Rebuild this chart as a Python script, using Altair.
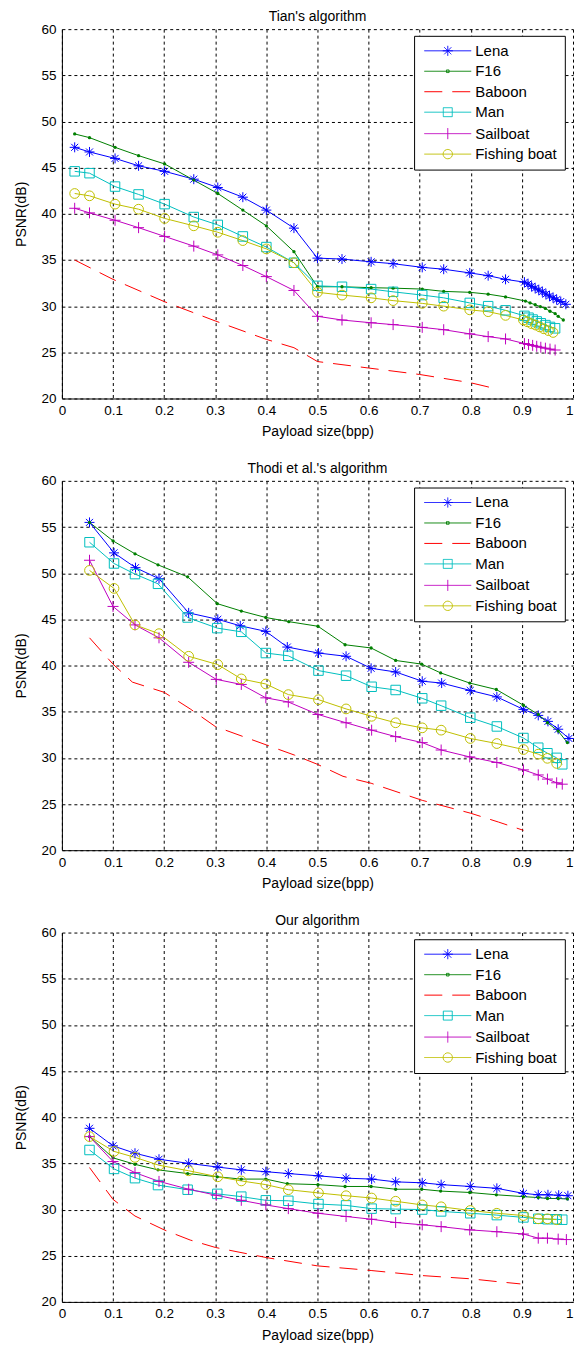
import math
import altair as alt
import pandas as pd

FONT = "Liberation Sans"

SERIES = ["Lena", "F16", "Baboon", "Man", "Sailboat", "Fishing boat"]
COLORS = ["#0000FF", "#008000", "#FF0000", "#00BFBF", "#BF00BF", "#BFBF00"]
DASHES = [[1, 0], [1, 0], [18, 10], [1, 0], [1, 0], [1, 0]]
COLOR_OF = dict(zip(SERIES, COLORS))
SOLID_SERIES = [s for s in SERIES if s != "Baboon"]

X_TICKS = [0, 0.1, 0.2, 0.3, 0.4, 0.5, 0.6, 0.7, 0.8, 0.9, 1.0]
Y_TICKS = [20, 25, 30, 35, 40, 45, 50, 55, 60]

TITLES = ["Tian's algorithm", "Thodi et al.'s algorithm", "Our algorithm"]

# ---------------- Tian's algorithm ----------------
TIAN_X19 = [0.025, 0.054, 0.104, 0.150, 0.201, 0.258, 0.305, 0.354, 0.400, 0.454,
            0.500, 0.548, 0.605, 0.648, 0.705, 0.747, 0.798, 0.834, 0.868]
TIAN_LENA_X = TIAN_X19 + [0.905, 0.912, 0.919, 0.926, 0.933, 0.940, 0.947, 0.954, 0.961, 0.968, 0.976, 0.986]
TIAN_LENA_Y = [47.2, 46.7, 46.0, 45.2, 44.6, 43.75, 42.85, 41.8, 40.4, 38.45, 35.2, 35.1, 34.8, 34.6,
               34.2, 34.0, 33.6, 33.3, 32.9,
               32.6, 32.4, 32.15, 31.95, 31.75, 31.55, 31.3, 31.1, 30.9, 30.7, 30.5, 30.2]
TIAN_F16_X = TIAN_X19 + [0.907, 0.916, 0.926, 0.936, 0.946, 0.955, 0.965, 0.971, 0.981]
TIAN_F16_Y = [48.65, 48.25, 47.2, 46.3, 45.4, 43.65, 42.2, 40.4, 38.7, 35.9, 32.1, 32.1, 32.0, 31.95,
              31.85, 31.6, 31.5, 31.3, 31.0,
              30.55, 30.35, 30.15, 29.95, 29.75, 29.45, 29.2, 28.9, 28.5]
TIAN_BABOON_X = [0.025, 0.1, 0.2, 0.3, 0.4, 0.454, 0.5, 0.6, 0.7, 0.8, 0.838]
TIAN_BABOON_Y = [35.0, 32.9, 30.5, 28.4, 26.4, 25.5, 24.0, 23.3, 22.6, 21.7, 21.2]
TIAN_MAN_X = TIAN_X19 + [0.905, 0.913, 0.921, 0.929, 0.937, 0.946, 0.955, 0.965]
TIAN_MAN_Y = [44.6, 44.4, 42.95, 42.1, 41.05, 39.65, 38.8, 37.55, 36.4, 34.7, 32.2, 32.1, 31.85, 31.55,
              31.2, 30.9, 30.35, 30.0, 29.55,
              28.95, 28.75, 28.55, 28.35, 28.15, 27.95, 27.75, 27.6]
TIAN_SAIL_X = TIAN_X19 + [0.905, 0.913, 0.921, 0.929, 0.937, 0.946, 0.955, 0.965]
TIAN_SAIL_Y = [40.6, 40.1, 39.3, 38.5, 37.55, 36.5, 35.55, 34.4, 33.2, 31.7, 28.9, 28.5, 28.2, 28.0,
               27.7, 27.45, 27.0, 26.7, 26.45,
               25.95, 25.85, 25.75, 25.65, 25.55, 25.45, 25.35, 25.25]
TIAN_FISH_X = TIAN_X19 + [0.903, 0.911, 0.919, 0.927, 0.935, 0.943, 0.952, 0.961]
TIAN_FISH_Y = [42.2, 41.95, 41.05, 40.5, 39.5, 38.7, 38.0, 37.1, 36.2, 34.7, 31.5, 31.2, 30.9, 30.6,
               30.3, 30.0, 29.6, 29.4, 29.0,
               28.5, 28.3, 28.1, 27.95, 27.75, 27.55, 27.35, 27.15]

# ---------------- Thodi et al.'s algorithm ----------------
THODI_LENA_X = [0.054, 0.102, 0.144, 0.190, 0.248, 0.305, 0.349, 0.399, 0.441, 0.502, 0.556,
                0.605, 0.653, 0.705, 0.743, 0.799, 0.851, 0.903, 0.932, 0.951, 0.971, 0.992]
THODI_LENA_Y = [55.5, 52.2, 50.6, 49.4, 45.7, 45.0, 44.3, 43.7, 42.0, 41.35, 41.0,
                39.7, 39.3, 38.3, 38.1, 37.3, 36.6, 35.25, 34.6, 33.95, 33.1, 32.1]
THODI_F16_X = [0.054, 0.100, 0.143, 0.188, 0.246, 0.304, 0.351, 0.399, 0.444, 0.501, 0.554,
               0.605, 0.653, 0.704, 0.741, 0.798, 0.850, 0.903, 0.932, 0.950, 0.971, 0.989]
THODI_F16_Y = [55.5, 53.5, 52.1, 50.9, 49.6, 46.7, 45.9, 45.2, 44.75, 44.25, 42.25,
               41.9, 40.55, 40.15, 39.2, 38.1, 37.4, 35.7, 34.7, 33.8, 32.9, 31.65]
THODI_BABOON_X = [0.054, 0.100, 0.138, 0.200, 0.251, 0.300, 0.400, 0.455, 0.500, 0.550,
                  0.605, 0.705, 0.800, 0.854, 0.903]
THODI_BABOON_Y = [43.0, 40.15, 38.2, 37.1, 35.3, 33.4, 31.4, 30.3, 29.3, 28.0,
                  27.25, 25.4, 24.0, 23.05, 22.15]
THODI_MAN_X = [0.054, 0.102, 0.143, 0.188, 0.246, 0.304, 0.351, 0.399, 0.443, 0.502, 0.556,
               0.606, 0.653, 0.705, 0.742, 0.799, 0.851, 0.903, 0.932, 0.950, 0.968, 0.979]
THODI_MAN_Y = [53.35, 51.05, 49.9, 48.85, 45.2, 44.05, 43.65, 41.35, 41.05, 39.45, 38.9,
               37.7, 37.35, 36.45, 35.65, 34.35, 33.4, 32.15, 31.1, 30.5, 30.0, 29.3]
THODI_SAIL_X = [0.054, 0.100, 0.143, 0.190, 0.248, 0.302, 0.351, 0.399, 0.443, 0.501, 0.556,
                0.606, 0.653, 0.705, 0.742, 0.798, 0.851, 0.903, 0.932, 0.950, 0.968, 0.979]
THODI_SAIL_Y = [51.4, 46.4, 44.4, 43.0, 40.35, 38.5, 37.95, 36.5, 36.05, 34.7, 33.8,
                33.0, 32.3, 31.65, 30.85, 30.1, 29.5, 28.7, 28.15, 27.7, 27.3, 27.15]
THODI_FISH_X = [0.054, 0.102, 0.143, 0.190, 0.248, 0.305, 0.351, 0.399, 0.443, 0.502, 0.556,
                0.606, 0.653, 0.705, 0.742, 0.799, 0.851, 0.903, 0.932, 0.950, 0.968]
THODI_FISH_Y = [50.3, 48.35, 44.4, 43.45, 41.0, 40.1, 38.55, 38.0, 36.85, 36.3, 35.3,
                34.5, 33.8, 33.25, 33.0, 32.1, 31.55, 30.9, 30.4, 29.95, 29.4]

# ---------------- Our algorithm ----------------
OUR_LENA_X = [0.054, 0.100, 0.143, 0.190, 0.248, 0.305, 0.351, 0.399, 0.443, 0.502, 0.556,
              0.606, 0.653, 0.705, 0.742, 0.799, 0.851, 0.903, 0.932, 0.951, 0.972, 0.990]
OUR_LENA_Y = [38.8, 36.9, 36.1, 35.45, 35.0, 34.6, 34.3, 34.1, 33.9, 33.65, 33.4,
              33.3, 33.0, 32.9, 32.7, 32.5, 32.3, 31.75, 31.6, 31.6, 31.55, 31.5]
OUR_F16_X = [0.054, 0.100, 0.143, 0.188, 0.246, 0.304, 0.351, 0.399, 0.441, 0.501, 0.554,
             0.605, 0.653, 0.704, 0.741, 0.798, 0.850, 0.903, 0.932, 0.950, 0.971, 0.989]
OUR_F16_Y = [37.9, 35.6, 34.9, 34.3, 33.9, 33.55, 33.3, 33.3, 32.8, 32.7, 32.5,
             32.5, 32.2, 32.2, 32.0, 31.85, 31.6, 31.4, 31.3, 31.2, 31.2, 31.15]
OUR_BABOON_X = [0.054, 0.100, 0.143, 0.200, 0.251, 0.300, 0.400, 0.500, 0.605, 0.705, 0.800,
                0.851, 0.897]
OUR_BABOON_Y = [34.55, 31.1, 29.3, 27.8, 26.7, 25.9, 24.8, 23.9, 23.4, 22.85, 22.5,
                22.2, 21.95]
OUR_MAN_X = [0.054, 0.102, 0.143, 0.188, 0.246, 0.304, 0.351, 0.399, 0.443, 0.502, 0.556,
             0.606, 0.653, 0.705, 0.742, 0.799, 0.851, 0.903, 0.932, 0.950, 0.968, 0.979]
OUR_MAN_Y = [36.45, 34.4, 33.4, 32.65, 32.15, 31.7, 31.4, 31.0, 30.95, 30.6, 30.45,
             30.1, 30.05, 30.0, 29.8, 29.6, 29.4, 29.15, 29.0, 28.95, 28.95, 28.9]
OUR_SAIL_X = [0.054, 0.100, 0.143, 0.190, 0.248, 0.302, 0.351, 0.399, 0.443, 0.501, 0.556,
              0.606, 0.653, 0.705, 0.742, 0.798, 0.851, 0.903, 0.932, 0.950, 0.971, 0.987]
OUR_SAIL_Y = [37.9, 35.2, 34.0, 33.05, 32.2, 31.55, 31.0, 30.5, 30.1, 29.6, 29.25,
              28.95, 28.6, 28.35, 28.15, 27.8, 27.6, 27.35, 26.9, 26.9, 26.8, 26.75]
OUR_FISH_X = [0.054, 0.102, 0.143, 0.190, 0.248, 0.305, 0.351, 0.399, 0.443, 0.502, 0.556,
              0.606, 0.653, 0.705, 0.742, 0.799, 0.851, 0.903, 0.932, 0.950, 0.968]
OUR_FISH_Y = [37.9, 36.3, 35.65, 34.8, 34.2, 33.55, 33.1, 32.7, 32.15, 31.8, 31.5,
              31.25, 30.9, 30.5, 30.3, 29.9, 29.6, 29.35, 29.0, 29.0, 28.9]

PANELS = [
    {"Lena": (TIAN_LENA_X, TIAN_LENA_Y), "F16": (TIAN_F16_X, TIAN_F16_Y),
     "Baboon": (TIAN_BABOON_X, TIAN_BABOON_Y), "Man": (TIAN_MAN_X, TIAN_MAN_Y),
     "Sailboat": (TIAN_SAIL_X, TIAN_SAIL_Y), "Fishing boat": (TIAN_FISH_X, TIAN_FISH_Y)},
    {"Lena": (THODI_LENA_X, THODI_LENA_Y), "F16": (THODI_F16_X, THODI_F16_Y),
     "Baboon": (THODI_BABOON_X, THODI_BABOON_Y), "Man": (THODI_MAN_X, THODI_MAN_Y),
     "Sailboat": (THODI_SAIL_X, THODI_SAIL_Y), "Fishing boat": (THODI_FISH_X, THODI_FISH_Y)},
    {"Lena": (OUR_LENA_X, OUR_LENA_Y), "F16": (OUR_F16_X, OUR_F16_Y),
     "Baboon": (OUR_BABOON_X, OUR_BABOON_Y), "Man": (OUR_MAN_X, OUR_MAN_Y),
     "Sailboat": (OUR_SAIL_X, OUR_SAIL_Y), "Fishing boat": (OUR_FISH_X, OUR_FISH_Y)},
]

# marker glyphs (unit square paths)
STAR = "M-1,0L1,0M0,-1L0,1M-0.7,-0.7L0.7,0.7M-0.7,0.7L0.7,-0.7"
PLUS = "M-1,0L1,0M0,-1L0,1"
MARKERS = {
    "Lena": dict(shape=STAR, size=100, filled=False),
    "F16": dict(shape="circle", size=11, filled=True),
    "Man": dict(shape="square", size=90, filled=False),
    "Sailboat": dict(shape=PLUS, size=121, filled=False),
    "Fishing boat": dict(shape="circle", size=95, filled=False),
}


# legend glyphs: line segment with the marker in its middle.
# symbolSize 169 -> 1 path unit = 6.5 px; the line spans +-3.615 units (47 px).
def _poly_circle(r, n=20):
    pts = [(r * math.cos(2 * math.pi * k / n), r * math.sin(2 * math.pi * k / n)) for k in range(n)]
    return "M" + "L".join(f"{px:.3f},{py:.3f}" for px, py in pts) + "Z"


LINE = "M-3.615,0L3.615,0"
LEGEND_SHAPES = [
    LINE + "M-0.77,0L0.77,0M0,-0.77L0,0.77M-0.54,-0.54L0.54,0.54M-0.54,0.54L0.54,-0.54",
    LINE + "M-0.2,-0.2L0.2,-0.2L0.2,0.2L-0.2,0.2Z",
    LINE,
    LINE + "M-0.69,-0.69L0.69,-0.69L0.69,0.69L-0.69,0.69Z",
    LINE + "M0,-0.85L0,0.85",
    LINE + _poly_circle(0.72),
]

LEGEND = alt.Legend(
    title=None, orient="none", legendX=352.8, legendY=6.7,
    padding=7.5, symbolOffset=18.75, labelOffset=20, rowPadding=4.5,
    symbolSize=169, symbolStrokeWidth=1, strokeColor="black", fillColor="white",
    cornerRadius=0, labelFont=FONT, labelFontSize=15, labelColor="black",
    labelExpr="datum.label + ' '",
)


def panel(idx):
    rows = []
    for s in SERIES:
        xs, ys = PANELS[idx][s]
        for xv, yv in zip(xs, ys):
            rows.append({"series": s, "x": xv, "y": yv})
    df = pd.DataFrame(rows)

    xenc = alt.X("x:Q", scale=alt.Scale(domain=[0, 1], nice=False, zero=False),
                 axis=alt.Axis(values=X_TICKS, format="~g", title="Payload size(bpp)",
                               labelFlush=False, labelOverlap=False, labelPadding=5,
                               titlePadding=8,
                               labelAlign={"condition": {"test": "datum.value == 1", "value": "right"},
                                           "value": "center"}))
    yenc = alt.Y("y:Q", scale=alt.Scale(domain=[20, 60], nice=False, zero=False),
                 axis=alt.Axis(values=Y_TICKS, title="PSNR(dB)", labelOverlap=False,
                               labelPadding=6, titlePadding=12))
    base = alt.Chart(df)

    solid = base.transform_filter(alt.datum.series != "Baboon").mark_line(
        strokeWidth=1).encode(
        x=xenc, y=yenc,
        stroke=alt.Stroke("series:N", legend=None,
                          scale=alt.Scale(domain=SOLID_SERIES,
                                          range=[COLOR_OF[s] for s in SOLID_SERIES])))
    dashed = base.transform_filter(alt.datum.series == "Baboon").mark_line(
        strokeWidth=1, strokeDash=[18, 10], stroke=COLOR_OF["Baboon"]).encode(x=xenc, y=yenc)

    layers = [solid, dashed]
    for name, spec in MARKERS.items():
        m = base.transform_filter(alt.datum.series == name)
        if spec["filled"]:
            layers.append(m.mark_point(shape=spec["shape"], size=spec["size"], filled=True,
                                       opacity=1, strokeWidth=0, fill=COLOR_OF[name]).encode(
                x=xenc, y=yenc))
        else:
            layers.append(m.mark_point(shape=spec["shape"], size=spec["size"], filled=False,
                                       opacity=1, strokeWidth=1, stroke=COLOR_OF[name]).encode(
                x=xenc, y=yenc))

    # legend-only layer: no rows drawn, legend built from the explicit scale domains
    legend_layer = base.transform_filter("datum.x < -1").mark_point(
        filled=False, opacity=1, strokeWidth=1).encode(
        x=xenc, y=yenc,
        color=alt.Color("series:N", scale=alt.Scale(domain=SERIES, range=COLORS), legend=LEGEND),
        shape=alt.Shape("series:N", scale=alt.Scale(domain=SERIES, range=LEGEND_SHAPES), legend=LEGEND),
        strokeDash=alt.StrokeDash("series:N", scale=alt.Scale(domain=SERIES, range=DASHES), legend=LEGEND),
    )
    layers.append(legend_layer)

    return alt.layer(*layers).properties(
        width=512, height=370,
        title=alt.TitleParams(TITLES[idx]),
    )


chart = alt.vconcat(panel(0), panel(1), panel(2), spacing=22.5).resolve_scale(
    color="independent", shape="independent", strokeDash="independent",
    stroke="independent",
).resolve_legend(
    color="independent", shape="independent", strokeDash="independent",
).properties(
    padding={"left": 6, "top": 1, "right": 0, "bottom": 0}
).configure_view(stroke=None).configure_axis(
    grid=True, gridColor="black", gridDash=[3, 3], gridOpacity=1, gridWidth=1,
    domainColor="black", domainWidth=1, ticks=False,
    labelFont=FONT, labelFontSize=13.5, labelColor="black",
    titleFont=FONT, titleFontSize=14, titleFontWeight="normal", titleColor="black",
).configure_title(
    font=FONT, fontSize=14, fontWeight="normal", color="black", offset=-2, anchor="middle"
)

chart.save("out.html", embed_options={"renderer": "svg", "actions": False})
